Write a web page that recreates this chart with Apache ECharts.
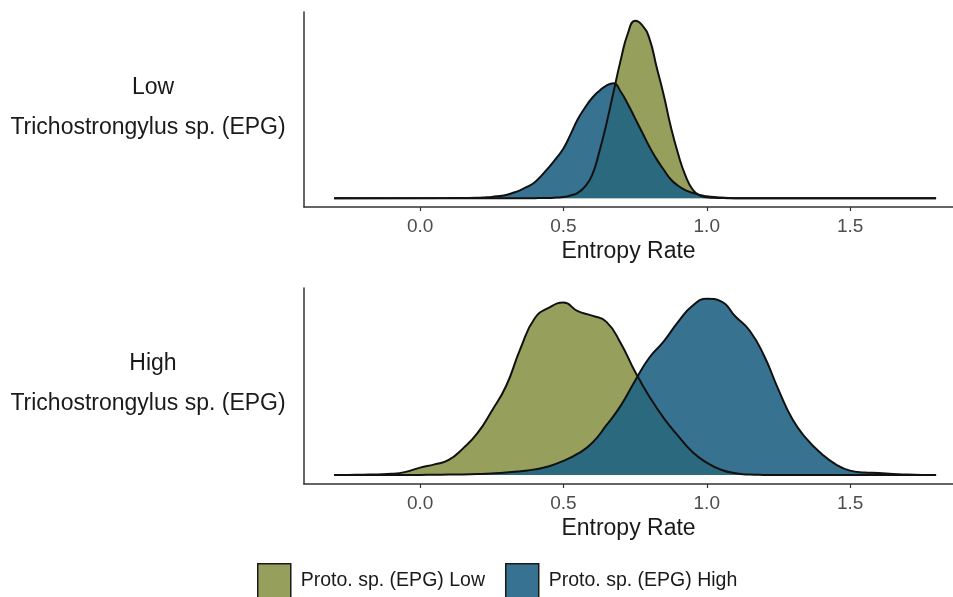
<!DOCTYPE html>
<html>
<head>
<meta charset="utf-8">
<title>Entropy Rate density</title>
<script src="https://cdn.jsdelivr.net/npm/echarts@6/dist/echarts.min.js"></script>
<style>
  html, body {
    margin: 0;
    padding: 0;
    background: #fff;
  }
  #chart {
    width: 953px;
    height: 597px;
  }
</style>
</head>
<body>
<div id="chart"></div>
<script>
// top panel: Trichostrongylus Low
const topX = [-0.3, 0.1, 0.15, 0.2, 0.225, 0.25, 0.275, 0.3, 0.325, 0.35, 0.375, 0.4, 0.425, 0.45, 0.475,
  0.5, 0.525, 0.55, 0.575, 0.6, 0.625, 0.65, 0.675, 0.7, 0.725, 0.75, 0.775, 0.8, 0.825, 0.85, 0.875,
  0.9, 0.925, 0.95, 0.975, 1.0, 1.025, 1.05, 1.075, 1.1, 1.15, 1.3, 1.8]
const topLow = [0, 0, 0, 0, 0, 0, 0, 0, 0, 0, 0, 0, 0.001, 0.001, 0.003,
  0.006, 0.015, 0.03, 0.065, 0.13, 0.26, 0.42, 0.6, 0.78, 0.93, 1.0, 0.975, 0.9, 0.74, 0.58, 0.4,
  0.25, 0.13, 0.05, 0.015, 0.005, 0.002, 0.001, 0, 0, 0, 0, 0]
const topHigh = [0, 0.0005, 0.001, 0.002, 0.004, 0.007, 0.012, 0.018, 0.03, 0.045, 0.065, 0.09, 0.13, 0.175, 0.225,
  0.28, 0.36, 0.445, 0.51, 0.565, 0.605, 0.635, 0.648, 0.6, 0.53, 0.45, 0.37, 0.29, 0.22, 0.16, 0.105,
  0.07, 0.045, 0.03, 0.018, 0.011, 0.006, 0.003, 0.001, 0, 0, 0, 0]

// bottom panel: Trichostrongylus High
const botX = [-0.3, -0.25, -0.2, -0.15, -0.1, -0.05, 0.0, 0.05, 0.1, 0.15, 0.2, 0.25, 0.3, 0.35, 0.4,
  0.45, 0.5, 0.55, 0.6, 0.65, 0.7, 0.75, 0.8, 0.85, 0.9, 0.95, 1.0, 1.05, 1.1, 1.15, 1.2,
  1.25, 1.3, 1.35, 1.4, 1.45, 1.5, 1.55, 1.6, 1.65, 1.7, 1.75, 1.8]
const botLow = [0, 0.001, 0.002, 0.004, 0.007, 0.018, 0.042, 0.06, 0.085, 0.15, 0.235, 0.36, 0.5, 0.71, 0.88,
  0.94, 0.968, 0.92, 0.895, 0.86, 0.74, 0.58, 0.44, 0.32, 0.22, 0.13, 0.07, 0.03, 0.01, 0.003, 0.001,
  0, 0, 0, 0, 0, 0, 0, 0, 0, 0, 0, 0]
const botHigh = [0, 0, 0, 0, 0, 0, 0.001, 0.002, 0.003, 0.004, 0.006, 0.009, 0.014, 0.022, 0.032,
  0.05, 0.08, 0.12, 0.18, 0.28, 0.39, 0.53, 0.66, 0.75, 0.86, 0.95, 0.99, 0.975, 0.89, 0.81, 0.67,
  0.48, 0.31, 0.2, 0.12, 0.06, 0.025, 0.015, 0.012, 0.006, 0.003, 0.001, 0]

const xTicks = [0, 0.5, 1.0, 1.5]
const seriesNames = ['Proto. sp. (EPG) Low', 'Proto. sp. (EPG) High']
const panelLabels = ['Low', 'High']
const panelTitle = 'Trichostrongylus sp. (EPG)'
const axisTitle = 'Entropy Rate'

const FONT = '"Liberation Sans", Arial, Helvetica, sans-serif'
const GREEN = '#969f5c'
const BLUE = 'rgba(30, 98, 130, 0.89)'

const zip = (xs, ys) => xs.map((x, i) => [x, ys[i]])

const xAxisFor = (gridIndex) => ({
  type: 'value',
  gridIndex: gridIndex,
  min: -0.405,
  max: 1.859,
  splitLine: { show: false },
  axisLine: { show: true, onZero: false, lineStyle: { color: '#333', width: 1.5 } },
  axisTick: { show: true, length: 4, customValues: xTicks, lineStyle: { color: '#333', width: 1.2 } },
  axisLabel: {
    customValues: xTicks,
    formatter: (v) => v.toFixed(1),
    color: '#4d4d4d',
    fontSize: 19,
    fontFamily: FONT,
    margin: 10,
  },
  name: axisTitle,
  nameLocation: 'middle',
  nameGap: 33,
  nameTextStyle: { color: '#1a1a1a', fontSize: 23, fontFamily: FONT },
})

const yAxisFor = (gridIndex) => ({
  type: 'value',
  gridIndex: gridIndex,
  min: -0.05,
  max: 1.05,
  splitLine: { show: false },
  axisLine: { show: true, onZero: false, lineStyle: { color: '#333', width: 1.5 } },
  axisTick: { show: false },
  axisLabel: { show: false },
})

const densitySeries = (name, idx, data, color) => ({
  name: name,
  type: 'line',
  xAxisIndex: idx,
  yAxisIndex: idx,
  data: data,
  smooth: 0.5,
  symbol: 'none',
  itemStyle: { color: color },
  lineStyle: { color: '#111', width: 2 },
  areaStyle: { color: color, opacity: 1 },
  emphasis: { disabled: true },
})

const labelText = (text, x, y) => ({
  type: 'text',
  x: x,
  y: y,
  style: {
    text: text,
    fill: '#1a1a1a',
    font: '23px ' + FONT,
    textAlign: 'center',
    textVerticalAlign: 'middle',
  },
})

const chart = echarts.init(document.getElementById('chart'), null, { renderer: 'canvas' })

chart.setOption({
  animation: false,
  backgroundColor: '#fff',
  grid: [
    { left: 304, top: 12, width: 649, height: 195 },
    { left: 304, top: 288, width: 649, height: 196 },
  ],
  xAxis: [xAxisFor(0), xAxisFor(1)],
  yAxis: [yAxisFor(0), yAxisFor(1)],
  legend: {
    data: seriesNames,
    left: 257,
    top: 563,
    padding: 0,
    itemWidth: 33,
    itemHeight: 34,
    itemGap: 20,
    icon: 'rect',
    itemStyle: { borderColor: '#1a1a1a', borderWidth: 1.5 },
    textStyle: { color: '#1a1a1a', fontSize: 19.5, fontFamily: FONT, padding: [0, 0, 0, 5] },
    selectedMode: false,
  },
  graphic: [
    labelText(panelLabels[0], 153, 88),
    labelText(panelTitle, 148, 128),
    labelText(panelLabels[1], 153, 364),
    labelText(panelTitle, 148, 404),
  ],
  series: [
    densitySeries(seriesNames[0], 0, zip(topX, topLow), GREEN),
    densitySeries(seriesNames[1], 0, zip(topX, topHigh), BLUE),
    densitySeries(seriesNames[0], 1, zip(botX, botLow), GREEN),
    densitySeries(seriesNames[1], 1, zip(botX, botHigh), BLUE),
  ],
})
</script>
</body>
</html>
